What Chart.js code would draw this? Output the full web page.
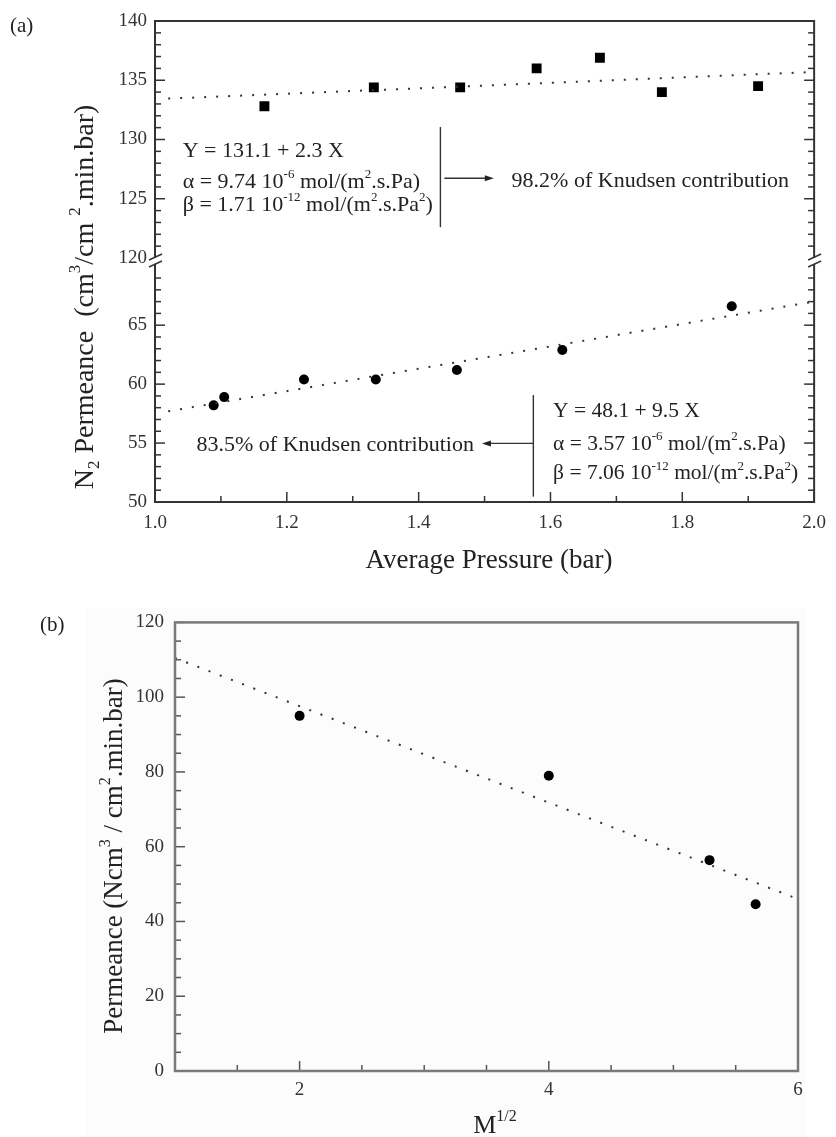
<!DOCTYPE html>
<html>
<head>
<title>N2 Permeance</title>
<script src="https://cdn.jsdelivr.net/npm/chart.js"></script>
<style>
  body { margin: 0; background: #fff; }
  canvas { position: absolute; left: 0; }
  #chartA { top: 0; }
  #chartB { top: 600px; }
</style>
</head>
<body>
<canvas id="chartA" width="836" height="600"></canvas>
<canvas id="chartB" width="836" height="537"></canvas>
<script>
// (a) upper branch (squares) and its fit
const upperP = [1.166, 1.332, 1.463, 1.579, 1.675, 1.769, 1.915];
const upperN2 = [132.8, 134.4, 134.4, 136.0, 136.9, 134.0, 134.5];
const upperFitP = [1.02, 2.0];
const upperFitN2 = [133.45, 135.7];
// (a) lower branch (circles) and its fit
const lowerP = [1.089, 1.105, 1.226, 1.335, 1.458, 1.618, 1.875];
const lowerN2 = [58.2, 58.9, 60.4, 60.4, 61.2, 62.9, 66.6];
const lowerFitP = [1.02, 2.0];
const lowerFitN2 = [57.7, 67.0];
// (b) permeance vs M^1/2
const sqrtM = [2, 4, 5.29, 5.66];
const permB = [95, 79, 56.4, 44.6];
const fitM = [1, 6];
const fitPermB = [110.5, 46.0];

// labelled ticks
const xTicksA = [1.0, 1.2, 1.4, 1.6, 1.8, 2.0];
const yTicksUpper = [120, 125, 130, 135, 140];
const yTicksLower = [50, 55, 60, 65];
const xTicksB = [2, 4, 6];
const yTicksB = [0, 20, 40, 60, 80, 100, 120];

const upperEq = ['Y = 131.1 + 2.3 X', 'α = 9.74 10^{-6} mol/(m^{2}.s.Pa)', 'β = 1.71 10^{-12} mol/(m^{2}.s.Pa^{2})'];
const lowerEq = ['Y = 48.1 + 9.5 X', 'α = 3.57 10^{-6} mol/(m^{2}.s.Pa)', 'β = 7.06 10^{-12} mol/(m^{2}.s.Pa^{2})'];
const upperNote = '98.2% of Knudsen contribution';
const lowerNote = '83.5% of Knudsen contribution';

const SERIF = "'Liberation Serif', 'Times New Roman', serif";
const pts = (xs, ys) => xs.map((x, i) => ({x, y: ys[i]}));
const has = (arr, v) => arr.some(t => Math.abs(t - v) < 1e-6);

// text with ^{..} and _{..}
function parseRich(str) {
  const parts = [];
  const re = /([\^_])\{([^}]*)\}/g;
  let last = 0, m;
  while ((m = re.exec(str))) {
    if (m.index > last) parts.push({t: str.slice(last, m.index), mode: 0});
    parts.push({t: m[2], mode: m[1] === '^' ? 1 : -1});
    last = re.lastIndex;
  }
  if (last < str.length) parts.push({t: str.slice(last), mode: 0});
  return parts;
}
function drawRich(ctx, str, x, y, size, align) {
  const parts = parseRich(str);
  const small = Math.round(size * 0.6);
  let w = 0;
  parts.forEach(p => {
    ctx.font = (p.mode ? small : size) + 'px ' + SERIF;
    p.w = ctx.measureText(p.t).width;
    w += p.w;
  });
  let cx = align === 'center' ? x - w / 2 : align === 'right' ? x - w : x;
  ctx.textAlign = 'left';
  ctx.textBaseline = 'alphabetic';
  parts.forEach(p => {
    ctx.font = (p.mode ? small : size) + 'px ' + SERIF;
    const dy = p.mode === 1 ? -size * 0.45 : p.mode === -1 ? size * 0.22 : 0;
    ctx.fillText(p.t, cx, y + dy);
    cx += p.w;
  });
}
function drawRotated(ctx, str, x, y, size) {
  ctx.save();
  ctx.translate(x, y);
  ctx.rotate(-Math.PI / 2);
  drawRich(ctx, str, 0, 0, size, 'center');
  ctx.restore();
}
function arrow(ctx, x1, y, x2) {
  const dir = x2 > x1 ? 1 : -1;
  ctx.beginPath(); ctx.moveTo(x1, y); ctx.lineTo(x2 - dir * 6, y); ctx.stroke();
  ctx.beginPath(); ctx.moveTo(x2, y); ctx.lineTo(x2 - dir * 9, y - 3); ctx.lineTo(x2 - dir * 9, y + 3); ctx.closePath(); ctx.fill();
}

// inner tick marks, frame and axis break
const innerTicks = {
  id: 'innerTicks',
  afterDraw(chart, args, opts) {
    const {ctx, chartArea: a} = chart;
    ctx.save();
    ctx.strokeStyle = opts.color;
    ctx.lineWidth = opts.tickWidth;
    opts.axes.forEach(ax => {
      const s = chart.scales[ax.id];
      s.ticks.forEach(t => {
        const v = t.value;
        if (v < ax.lo - 1e-9 || v > ax.hi + 1e-9) return;
        if (Math.abs(v / ax.step - Math.round(v / ax.step)) > 1e-6) return;
        const len = has(ax.majors, v) ? opts.majorLen : opts.minorLen;
        const p = s.getPixelForValue(v);
        ax.sides.forEach(side => {
          ctx.beginPath();
          if (side === 'bottom') { ctx.moveTo(p, a.bottom); ctx.lineTo(p, a.bottom - len); }
          if (side === 'left') { ctx.moveTo(a.left, p); ctx.lineTo(a.left + len, p); }
          if (side === 'right') { ctx.moveTo(a.right, p); ctx.lineTo(a.right - len, p); }
          ctx.stroke();
        });
      });
    });
    ctx.strokeStyle = opts.frameColor;
    ctx.lineWidth = opts.frameWidth;
    ctx.strokeRect(a.left, a.top, a.width, a.height);
    if (opts.breakAxes) {
      const s1 = chart.scales[opts.breakAxes[0]], s2 = chart.scales[opts.breakAxes[1]];
      const yb = (s1.top < s2.top ? s1.bottom : s2.bottom) + 3;
      [a.left, a.right].forEach(x => {
        ctx.fillStyle = '#fff';
        ctx.fillRect(x - 3, yb - 3, 6, 6);
        ctx.strokeStyle = opts.frameColor;
        ctx.lineWidth = 1.5;
        ctx.beginPath();
        ctx.moveTo(x - 6, yb - 1); ctx.lineTo(x + 7, yb - 7);
        ctx.moveTo(x - 6, yb + 6); ctx.lineTo(x + 7, yb);
        ctx.stroke();
      });
    }
    ctx.restore();
  }
};

// annotations of panel (a)
const notesA = {
  id: 'notesA',
  afterDraw(chart) {
    const {ctx} = chart;
    const x = chart.scales.x, yu = chart.scales.y, yl = chart.scales.y2;
    ctx.save();
    ctx.fillStyle = '#222';
    ctx.strokeStyle = '#333';
    ctx.lineWidth = 1.4;
    // upper block
    [128.52, 125.91, 123.97].forEach((v, i) => drawRich(ctx, upperEq[i], x.getPixelForValue(1.042), yu.getPixelForValue(v), 22, 'left'));
    ctx.beginPath();
    ctx.moveTo(x.getPixelForValue(1.433), yu.getPixelForValue(131.05));
    ctx.lineTo(x.getPixelForValue(1.433), yu.getPixelForValue(122.6));
    ctx.stroke();
    arrow(ctx, x.getPixelForValue(1.439), yu.getPixelForValue(126.73), x.getPixelForValue(1.514));
    drawRich(ctx, upperNote, x.getPixelForValue(1.541), yu.getPixelForValue(126.03), 22, 'left');
    // lower block
    [57.23, 54.41, 51.92].forEach((v, i) => drawRich(ctx, lowerEq[i], x.getPixelForValue(1.604), yl.getPixelForValue(v), 21.5, 'left'));
    ctx.beginPath();
    ctx.moveTo(x.getPixelForValue(1.574), yl.getPixelForValue(59.07));
    ctx.lineTo(x.getPixelForValue(1.574), yl.getPixelForValue(50.45));
    ctx.stroke();
    arrow(ctx, x.getPixelForValue(1.574), yl.getPixelForValue(54.97), x.getPixelForValue(1.496));
    drawRich(ctx, lowerNote, x.getPixelForValue(1.063), yl.getPixelForValue(54.35), 22, 'left');
    // titles
    drawRich(ctx, '(a)', 10, 32, 21, 'left');
    drawRich(ctx, 'Average Pressure (bar)', 489, 568, 27, 'center');
    drawRotated(ctx, 'N_{2} Permeance  (cm^{3}/cm ^{2}.min.bar)', 93, 297, 28);
    ctx.restore();
  }
};

const notesB = {
  id: 'notesB',
  beforeDraw(chart) {
    const {ctx} = chart;
    ctx.save();
    ctx.fillStyle = '#fcfcfc';
    ctx.fillRect(85, 8, 721, 529);
    ctx.restore();
  },
  afterDraw(chart) {
    const {ctx} = chart;
    ctx.save();
    ctx.fillStyle = '#222';
    drawRich(ctx, '(b)', 40, 31, 21, 'left');
    drawRich(ctx, 'M^{1/2}', 495, 533, 26, 'center');
    drawRotated(ctx, 'Permeance (Ncm^{3} / cm^{2}.min.bar)', 122, 256, 27);
    ctx.restore();
  }
};

const tickFont = {family: SERIF, size: 19};
const dotted = {borderColor: '#333', borderWidth: 2, borderDash: [2, 10], pointRadius: 0, showLine: true, fill: false};

new Chart(document.getElementById('chartA'), {
  type: 'scatter',
  data: {
    datasets: [
      Object.assign({data: pts(upperFitP, upperFitN2), yAxisID: 'y'}, dotted),
      Object.assign({data: pts(lowerFitP, lowerFitN2), yAxisID: 'y2'}, dotted),
      {data: pts(upperP, upperN2), yAxisID: 'y', pointStyle: 'rect', pointRadius: 7,
       backgroundColor: '#000', borderColor: '#000', borderWidth: 0},
      {data: pts(lowerP, lowerN2), yAxisID: 'y2', pointStyle: 'circle', pointRadius: 5,
       backgroundColor: '#000', borderColor: '#000', borderWidth: 0}
    ]
  },
  options: {
    responsive: false,
    animation: false,
    layout: {padding: {top: 21, right: 16, left: 0, bottom: 0}},
    plugins: {
      legend: {display: false},
      tooltip: {enabled: false},
      innerTicks: {
        color: '#333', tickWidth: 1.5, majorLen: 10, minorLen: 6,
        frameColor: '#333', frameWidth: 2, breakAxes: ['y', 'y2'],
        axes: [
          {id: 'x', step: 0.1, majors: xTicksA, lo: 1, hi: 2, sides: ['bottom']},
          {id: 'y', step: 1, majors: yTicksUpper, lo: 121, hi: 140, sides: ['left', 'right']},
          {id: 'y2', step: 1, majors: yTicksLower, lo: 50, hi: 69, sides: ['left', 'right']}
        ]
      }
    },
    scales: {
      x: {
        type: 'linear', position: 'bottom', min: 1, max: 2,
        grid: {display: false, drawTicks: false}, border: {display: false},
        ticks: {stepSize: 0.1, autoSkip: false, maxRotation: 0, padding: 10, font: tickFont, color: '#333',
                callback: v => has(xTicksA, v) ? v.toFixed(1) : ''},
        afterFit: s => { s.height = 98; }
      },
      y: {
        type: 'linear', position: 'left', stack: 'a', stackWeight: 237, weight: 2,
        min: 120, max: 140,
        grid: {display: false, drawTicks: false}, border: {display: false},
        ticks: {stepSize: 1, autoSkip: false, padding: 8, font: tickFont, color: '#333',
                callback: v => has(yTicksUpper, v) ? String(v) : ''},
        afterFit: s => { s.width = 155; }
      },
      y2: {
        type: 'linear', position: 'left', stack: 'a', stackWeight: 244, weight: 1,
        min: 50, max: 70.7,
        grid: {display: false, drawTicks: false}, border: {display: false},
        ticks: {stepSize: 1, autoSkip: false, padding: 8, font: tickFont, color: '#333',
                callback: v => has(yTicksLower, v) ? String(v) : ''},
        afterFit: s => { s.width = 155; }
      }
    }
  },
  plugins: [innerTicks, notesA]
});

new Chart(document.getElementById('chartB'), {
  type: 'scatter',
  data: {
    datasets: [
      Object.assign({data: pts(fitM, fitPermB)}, dotted),
      {data: pts(sqrtM, permB), pointStyle: 'circle', pointRadius: 5,
       backgroundColor: '#000', borderColor: '#000', borderWidth: 0}
    ]
  },
  options: {
    responsive: false,
    animation: false,
    layout: {padding: {top: 22, right: 38, left: 0, bottom: 0}},
    plugins: {
      legend: {display: false},
      tooltip: {enabled: false},
      innerTicks: {
        color: '#555', tickWidth: 1.5, majorLen: 10, minorLen: 6,
        frameColor: '#7a7a7a', frameWidth: 2.5,
        axes: [
          {id: 'x', step: 0.5, majors: xTicksB, lo: 1, hi: 6, sides: ['bottom']},
          {id: 'y', step: 5, majors: yTicksB, lo: 0, hi: 120, sides: ['left']}
        ]
      }
    },
    scales: {
      x: {
        type: 'linear', position: 'bottom', min: 1, max: 6,
        grid: {display: false, drawTicks: false}, border: {display: false},
        ticks: {stepSize: 0.5, autoSkip: false, maxRotation: 0, padding: 8, font: tickFont, color: '#333',
                callback: v => has(xTicksB, v) ? String(v) : ''},
        afterFit: s => { s.height = 66; }
      },
      y: {
        type: 'linear', position: 'left', min: 0, max: 120,
        grid: {display: false, drawTicks: false}, border: {display: false},
        ticks: {stepSize: 5, autoSkip: false, padding: 11, font: tickFont, color: '#333',
                callback: v => has(yTicksB, v) ? String(v) : ''},
        afterFit: s => { s.width = 175; }
      }
    }
  },
  plugins: [innerTicks, notesB]
});
</script>
</body>
</html>
